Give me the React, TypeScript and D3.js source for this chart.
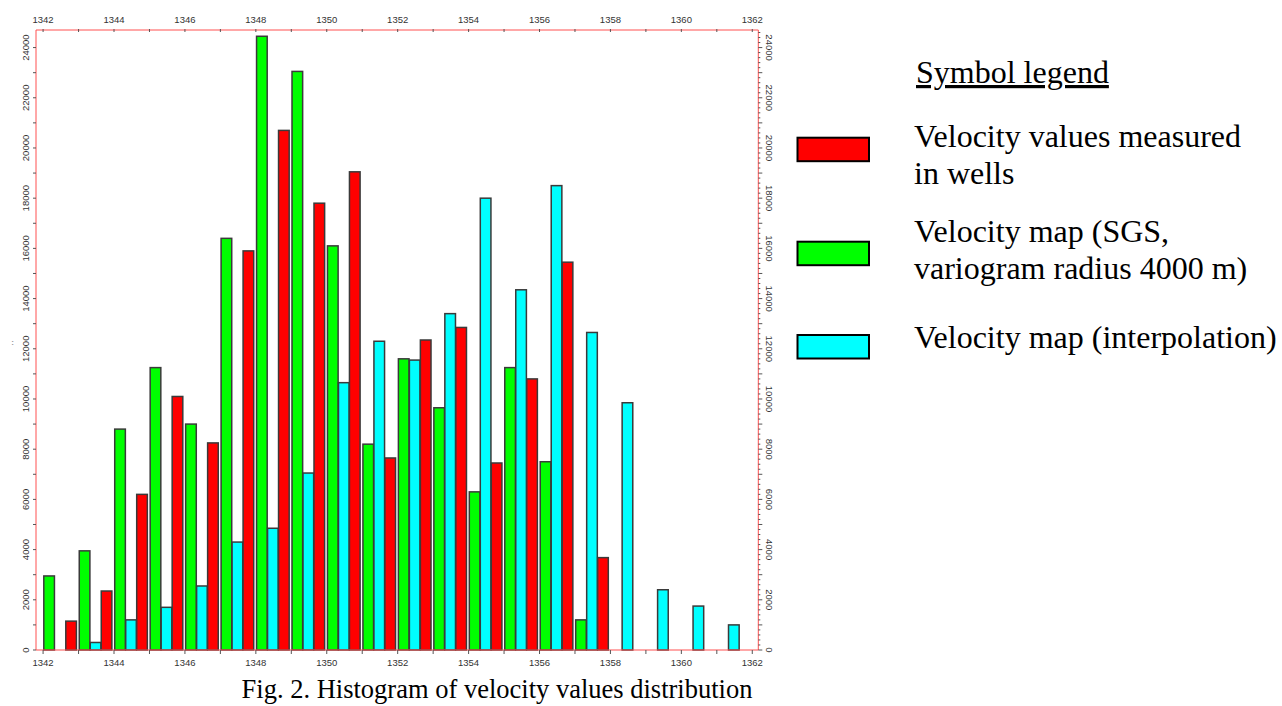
import React, { useEffect, useRef } from "react";
import * as d3 from "d3";

// bins (velocity classes) and counts per series
const bins = d3.range(1342, 1362);
const redValues = [1150, 2350, 6200, 10100, 8250, 15900, 20700, 17800, 19050, 7650, 12350, 12850, 7450, 10800, 15450, 3680, 0, 0, 0, 0];
const greenValues = [2950, 3950, 8800, 11250, 9000, 16400, 24450, 23050, 16100, 8200, 11600, 9650, 6300, 11250, 7500, 1200, 0, 0, 0, 0];
const cyanValues = [0, 300, 1200, 1700, 2550, 4300, 4850, 7050, 10650, 12300, 11550, 13400, 18000, 14350, 18500, 12650, 9850, 2400, 1750, 1000];

const xTickLabels = [1342, 1344, 1346, 1348, 1350, 1352, 1354, 1356, 1358, 1360, 1362];
const yTickLabels = [0, 2000, 4000, 6000, 8000, 10000, 12000, 14000, 16000, 18000, 20000, 22000, 24000];

const legendItems = [
  { color: "#ff0000", lines: ["Velocity values measured", "in wells"] },
  { color: "#00ff00", lines: ["Velocity map (SGS,", "variogram radius 4000 m)"] },
  { color: "#00ffff", lines: ["Velocity map (interpolation)"] },
];

const App = () => {
  const svgRef = useRef(null);

  useEffect(() => {
    const svg = d3.select(svgRef.current);
    svg.selectAll("*").remove();

    const left = 36,
      right = 758.3,
      top = 30,
      bottom = 650;

    const x = d3.scaleLinear().domain([1341.8, 1362.17]).range([left, right]);
    const y = d3.scaleLinear().domain([0, 24700]).range([bottom, top]);

    const tickFont = "'Liberation Sans', Arial, sans-serif";
    const axisRed = "#ff5050";

    // series bars: green at bin start, cyan a third in, red two thirds in
    const series = [
      { values: greenValues, color: "#00ff00", offset: 0.02 },
      { values: cyanValues, color: "#00ffff", offset: 0.33 },
      { values: redValues, color: "#ff0000", offset: 0.64 },
    ];
    const barW = 0.3;

    series.forEach((s) => {
      svg
        .append("g")
        .selectAll("rect")
        .data(bins.map((b, i) => ({ b, v: s.values[i] })).filter((d) => d.v > 0))
        .join("rect")
        .attr("x", (d) => x(d.b + s.offset))
        .attr("y", (d) => y(d.v))
        .attr("width", x(barW) - x(0))
        .attr("height", (d) => bottom - y(d.v))
        .attr("fill", s.color)
        .attr("stroke", "#3a3a3a")
        .attr("stroke-width", 1.5);
    });

    // frame
    const frame = svg.append("g").attr("stroke", axisRed).attr("stroke-width", 1).attr("fill", "none");
    frame.append("line").attr("x1", left).attr("x2", right).attr("y1", top).attr("y2", top);
    frame.append("line").attr("x1", left).attr("x2", left).attr("y1", top).attr("y2", bottom);
    frame.append("line").attr("x1", right).attr("x2", right).attr("y1", top).attr("y2", bottom);
    frame.append("line").attr("x1", left).attr("x2", right).attr("y1", bottom).attr("y2", bottom);

    // x ticks on top and bottom
    const xTicks = d3.range(1342, 1363);
    svg
      .append("g")
      .selectAll("line")
      .data(xTicks)
      .join("line")
      .attr("x1", (d) => x(d))
      .attr("x2", (d) => x(d))
      .attr("y1", top - 1)
      .attr("y2", top + 2)
      .attr("stroke", "#555")
      .attr("stroke-width", 1);
    svg
      .append("g")
      .selectAll("line")
      .data(xTicks)
      .join("line")
      .attr("x1", (d) => x(d))
      .attr("x2", (d) => x(d))
      .attr("y1", bottom)
      .attr("y2", bottom + 4)
      .attr("stroke", "#555")
      .attr("stroke-width", 1);

    const xLabels = (yPos) =>
      svg
        .append("g")
        .selectAll("text")
        .data(xTickLabels)
        .join("text")
        .attr("x", (d) => x(d))
        .attr("y", yPos)
        .attr("text-anchor", "middle")
        .attr("font-family", tickFont)
        .attr("font-size", 9.5)
        .attr("fill", "#333")
        .text((d) => d);
    xLabels(22.5);
    xLabels(665.5);

    // y ticks: left every 1000, right every 200
    svg
      .append("g")
      .selectAll("line")
      .data(d3.range(0, 24700, 1000))
      .join("line")
      .attr("x1", left - 3)
      .attr("x2", left)
      .attr("y1", (d) => y(d))
      .attr("y2", (d) => y(d))
      .attr("stroke", "#555");
    svg
      .append("g")
      .selectAll("line")
      .data(d3.range(0, 24700, 200))
      .join("line")
      .attr("x1", right)
      .attr("x2", (d) => (d % 1000 === 0 ? right + 4 : right + 2))
      .attr("y1", (d) => y(d))
      .attr("y2", (d) => y(d))
      .attr("stroke", "#555");

    svg
      .append("g")
      .selectAll("text")
      .data(yTickLabels)
      .join("text")
      .attr("transform", (d) => `translate(28.5,${y(d)}) rotate(-90)`)
      .attr("text-anchor", "middle")
      .attr("font-family", tickFont)
      .attr("font-size", 9.5)
      .attr("fill", "#333")
      .text((d) => d);
    svg
      .append("g")
      .selectAll("text")
      .data(yTickLabels)
      .join("text")
      .attr("transform", (d) => `translate(765.5,${y(d)}) rotate(90)`)
      .attr("text-anchor", "middle")
      .attr("font-family", tickFont)
      .attr("font-size", 9.5)
      .attr("fill", "#333")
      .text((d) => d);

    // tiny leftover y-axis title
    svg
      .append("text")
      .attr("transform", "translate(16,343) rotate(-90)")
      .attr("text-anchor", "middle")
      .attr("font-family", tickFont)
      .attr("font-size", 6)
      .attr("fill", "#333")
      .text("' '");

    // legend
    const serif = "'Liberation Serif', 'Times New Roman', serif";
    svg
      .append("text")
      .attr("x", 916)
      .attr("y", 83)
      .attr("font-family", serif)
      .attr("font-size", 32)
      .attr("text-decoration", "underline")
      .text("Symbol legend");

    const boxY = [137.7, 241.7, 335];
    const textY = [146.7, 241.7, 348.3];
    legendItems.forEach((item, i) => {
      svg
        .append("rect")
        .attr("x", 797.5)
        .attr("y", boxY[i])
        .attr("width", 71.5)
        .attr("height", 23.5)
        .attr("fill", item.color)
        .attr("stroke", "#000")
        .attr("stroke-width", 2);
      item.lines.forEach((line, j) => {
        svg
          .append("text")
          .attr("x", 914)
          .attr("y", textY[i] + j * 37)
          .attr("font-family", serif)
          .attr("font-size", 32)
          .text(line);
      });
    });

    // caption
    svg
      .append("text")
      .attr("x", 497)
      .attr("y", 698)
      .attr("text-anchor", "middle")
      .attr("font-family", serif)
      .attr("font-size", 26.5)
      .text("Fig. 2. Histogram of velocity values distribution");
  }, []);

  return (
    <svg
      ref={svgRef}
      width={1282}
      height={706}
      style={{ position: "absolute", left: 0, top: 0, background: "#fff" }}
    ></svg>
  );
};

export default App;
